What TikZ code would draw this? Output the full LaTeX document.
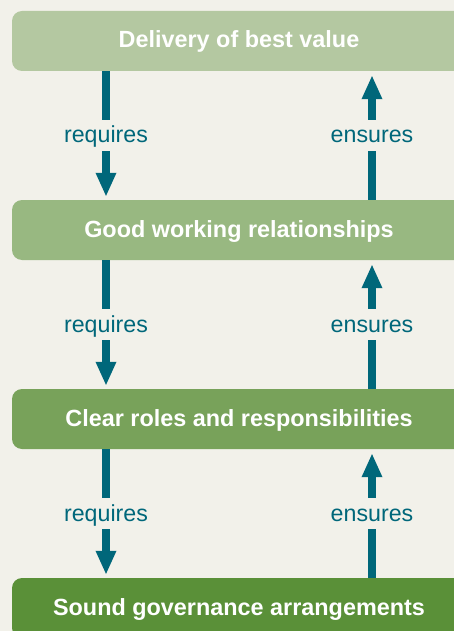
\documentclass[tikz,border=0pt]{standalone}
\usepackage{fontspec}
\setmainfont{Liberation Sans}
\usetikzlibrary{arrows.meta}

\definecolor{bgcol}{HTML}{F2F1EA}
\definecolor{arrowcol}{HTML}{00677A}
\definecolor{boxa}{HTML}{B4C8A1}
\definecolor{boxb}{HTML}{98B881}
\definecolor{boxc}{HTML}{78A25A}
\definecolor{boxd}{HTML}{5A9038}

\begin{document}
\begin{tikzpicture}[x=1pt, y=-1pt,
    box/.style={rectangle, rounded corners=10pt, minimum width=454pt, minimum height=60pt,
        inner sep=0pt, text height=16pt, text depth=2pt, text=white,
        font=\fontsize{23.4}{28}\selectfont\bfseries},
    lbl/.style={inner sep=0pt, text height=23pt, text depth=8pt, text=arrowcol,
        font=\fontsize{23.2}{28}\selectfont},
    shaft/.style={draw=arrowcol, line width=8pt},
    tip/.style={shaft, -{Triangle[width=19pt, length=24pt]}}]
    \useasboundingbox (0, 0) rectangle (454, 631);
    \fill[bgcol] (0, 0) rectangle (454, 631);

    \node[box, fill=boxa] (best) at (239, 41) {Delivery of best value};
    \node[box, fill=boxb] (good) at (239, 230) {Good working relationships};
    \node[box, fill=boxc] (roles) at (239, 419) {Clear roles and responsibilities};
    \node[box, fill=boxd] (sound) at (239, 608) {Sound governance arrangements};

    \node[lbl] (req1) at (106, 135.5) {requires};
    \node[lbl] (req2) at (106, 324.5) {requires};
    \node[lbl] (req3) at (106, 513.5) {requires};
    \node[lbl] (ens1) at (372, 135.5) {ensures};
    \node[lbl] (ens2) at (372, 324.5) {ensures};
    \node[lbl] (ens3) at (372, 513.5) {ensures};

    \draw[shaft] (best.south -| req1) -- (req1.north);
    \draw[tip, shorten >=3pt] (req1.south) -- (good.north -| req1);
    \draw[shaft] (good.south -| req2) -- (req2.north);
    \draw[tip, shorten >=3pt] (req2.south) -- (roles.north -| req2);
    \draw[shaft] (roles.south -| req3) -- (req3.north);
    \draw[tip, shorten >=3pt] (req3.south) -- (sound.north -| req3);

    \draw[shaft] (good.north -| ens1) -- (ens1.south);
    \draw[tip, shorten >=4pt] (ens1.north) -- (best.south -| ens1);
    \draw[shaft] (roles.north -| ens2) -- (ens2.south);
    \draw[tip, shorten >=4pt] (ens2.north) -- (good.south -| ens2);
    \draw[shaft] (sound.north -| ens3) -- (ens3.south);
    \draw[tip, shorten >=4pt] (ens3.north) -- (roles.south -| ens3);
\end{tikzpicture}
\end{document}
